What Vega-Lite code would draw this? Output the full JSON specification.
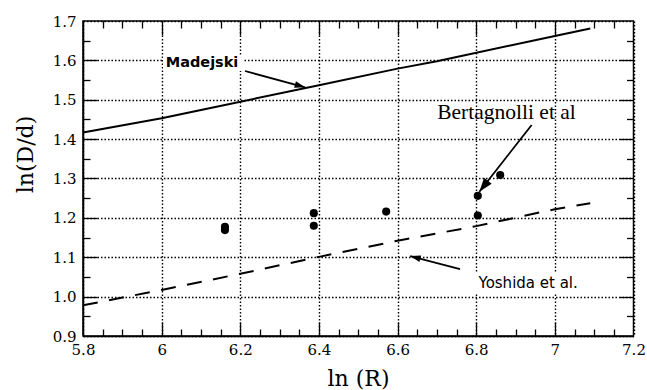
{
  "$schema": "https://vega.github.io/schema/vega-lite/v6.json",
  "width": 550.5,
  "height": 315,
  "autosize": {"type": "none"},
  "padding": {"left": 83, "top": 21, "right": 13.5, "bottom": 54},
  "background": "white",
  "config": {
    "view": {"stroke": "black", "strokeWidth": 1.5}
  },
  "datasets": {
    "points": [
      {"lnR": 6.161, "lnDd": 1.169},
      {"lnR": 6.161, "lnDd": 1.177},
      {"lnR": 6.387, "lnDd": 1.212},
      {"lnR": 6.387, "lnDd": 1.180},
      {"lnR": 6.571, "lnDd": 1.216},
      {"lnR": 6.804, "lnDd": 1.206},
      {"lnR": 6.804, "lnDd": 1.256},
      {"lnR": 6.861, "lnDd": 1.309}
    ],
    "madejski": [
      {"lnR": 5.8, "lnDd": 1.417},
      {"lnR": 6.0, "lnDd": 1.453},
      {"lnR": 6.1, "lnDd": 1.474},
      {"lnR": 6.4, "lnDd": 1.537},
      {"lnR": 6.6, "lnDd": 1.579},
      {"lnR": 6.7, "lnDd": 1.598},
      {"lnR": 7.0, "lnDd": 1.662},
      {"lnR": 7.09, "lnDd": 1.681}
    ],
    "yoshida": [
      {"lnR": 5.8, "lnDd": 0.978},
      {"lnR": 6.0, "lnDd": 1.017},
      {"lnR": 6.2, "lnDd": 1.058},
      {"lnR": 6.4, "lnDd": 1.101},
      {"lnR": 6.6, "lnDd": 1.142},
      {"lnR": 6.8, "lnDd": 1.179},
      {"lnR": 7.0, "lnDd": 1.222},
      {"lnR": 7.09, "lnDd": 1.237}
    ],
    "arrows": [
      {"name": "Madejski", "lnR": 6.212, "lnDd": 1.573, "lnR2": 6.365, "lnDd2": 1.5316},
      {"name": "Yoshida", "lnR": 6.759, "lnDd": 1.070, "lnR2": 6.632, "lnDd2": 1.103},
      {"name": "Bertagnolli", "lnR": 6.941, "lnDd": 1.4359, "lnR2": 6.808, "lnDd2": 1.2665}
    ],
    "labels": [
      {"name": "Madejski", "text": "Madejski", "lnR": 6.1027, "lnDd": 1.593},
      {"name": "Yoshida", "text": "Yoshida et al.", "lnR": 6.932, "lnDd": 1.0346},
      {"name": "Bertagnolli", "text": "Bertagnolli et al", "lnR": 6.877, "lnDd": 1.4663}
    ],
    "boxes": [
      {"lnR": 6.0035, "lnR2": 6.207, "lnDd": 1.573, "lnDd2": 1.6137},
      {"lnR": 6.795, "lnR2": 7.075, "lnDd": 1.008, "lnDd2": 1.0625}
    ]
  },
  "encoding": {
    "x": {"field": "lnR", "type": "quantitative", "scale": {"domain": [5.8, 7.2], "nice": false, "zero": false}, "axis": null},
    "y": {"field": "lnDd", "type": "quantitative", "scale": {"domain": [0.9, 1.7], "nice": false, "zero": false}, "axis": null}
  },
  "resolve": {"axis": {"x": "independent", "y": "independent"}},
  "layer": [
    {
      "data": {"name": "boxes"},
      "mark": {"type": "rect", "fill": "white", "stroke": null},
      "encoding": {
        "x2": {"field": "lnR2"},
        "y2": {"field": "lnDd2"}
      }
    },
    {
      "data": {"name": "points"},
      "mark": {"type": "point", "filled": true, "shape": "circle", "size": 66, "color": "black", "opacity": 1},
      "encoding": {
        "x": {
          "field": "lnR", "type": "quantitative",
          "scale": {"domain": [5.8, 7.2], "nice": false, "zero": false},
          "axis": {
            "orient": "bottom",
            "values": [5.8, 6, 6.2, 6.4, 6.6, 6.8, 7, 7.2],
            "labelExpr": "format(datum.value, '.1~f')",
            "labelFont": "DejaVu Serif", "labelFontSize": 15, "labelColor": "black", "labelPadding": 6,
            "labelOverlap": false, "labelFlush": false,
            "ticks": false, "tickSize": 0,
            "grid": true, "gridDash": [1.5, 2], "gridWidth": 1.4, "gridColor": "black",
            "domainColor": "black", "domainWidth": 1.5,
            "title": "ln (R)", "titleFont": "DejaVu Serif", "titleFontSize": 22, "titleFontWeight": "normal", "titleColor": "black",
            "titleBaseline": "middle", "titleX": 275, "titleY": 42
          }
        },
        "y": {
          "field": "lnDd", "type": "quantitative",
          "scale": {"domain": [0.9, 1.7], "nice": false, "zero": false},
          "axis": {
            "orient": "left",
            "values": [0.9, 1, 1.1, 1.2, 1.3, 1.4, 1.5, 1.6, 1.7],
            "labelExpr": "format(datum.value, '.1f')",
            "labelFont": "DejaVu Serif", "labelFontSize": 15, "labelColor": "black", "labelPadding": 7,
            "labelOverlap": false, "labelFlush": false,
            "ticks": false, "tickSize": 0,
            "grid": true, "gridDash": [1.5, 2], "gridWidth": 1.4, "gridColor": "black",
            "domainColor": "black", "domainWidth": 1.5,
            "title": "ln(D/d)", "titleFont": "DejaVu Serif", "titleFontSize": 22, "titleFontWeight": "normal", "titleColor": "black",
            "titleBaseline": "middle", "titleX": -58, "titleY": 133
          }
        }
      }
    },
    {
      "data": {"name": "madejski"},
      "mark": {"type": "line", "color": "black", "strokeWidth": 2},
      "encoding": {
        "x": {
          "field": "lnR", "type": "quantitative",
          "scale": {"domain": [5.8, 7.2], "nice": false, "zero": false},
          "axis": {"orient": "top", "values": [6, 6.2, 6.4, 6.6, 6.8, 7], "labels": false, "grid": false, "domain": false, "title": null,
                   "ticks": true, "tickSize": 14, "offset": -14, "tickColor": "black", "tickWidth": 1.3}
        },
        "y": {
          "field": "lnDd", "type": "quantitative",
          "scale": {"domain": [0.9, 1.7], "nice": false, "zero": false},
          "axis": {"orient": "right", "values": [1, 1.1, 1.2, 1.3, 1.4, 1.5, 1.6], "labels": false, "grid": false, "domain": false, "title": null,
                   "ticks": true, "tickSize": 14, "offset": -14, "tickColor": "black", "tickWidth": 1.3}
        }
      }
    },
    {
      "data": {"name": "yoshida"},
      "mark": {"type": "line", "color": "black", "strokeWidth": 2, "strokeDash": [15, 11.5]},
      "encoding": {
        "x": {
          "field": "lnR", "type": "quantitative",
          "scale": {"domain": [5.8, 7.2], "nice": false, "zero": false},
          "axis": {"orient": "bottom", "values": [6, 6.2, 6.4, 6.6, 6.8, 7], "labels": false, "grid": false, "domain": false, "title": null,
                   "ticks": true, "tickSize": 14, "offset": -14, "tickColor": "black", "tickWidth": 1.3}
        },
        "y": {
          "field": "lnDd", "type": "quantitative",
          "scale": {"domain": [0.9, 1.7], "nice": false, "zero": false},
          "axis": {"orient": "left", "values": [1, 1.1, 1.2, 1.3, 1.4, 1.5, 1.6], "labels": false, "grid": false, "domain": false, "title": null,
                   "ticks": true, "tickSize": 14, "offset": -14, "tickColor": "black", "tickWidth": 1.3}
        }
      }
    },
    {
      "data": {"name": "arrows"},
      "mark": {"type": "rule", "color": "black", "strokeWidth": 1.8},
      "encoding": {
        "x": {
          "field": "lnR", "type": "quantitative",
          "scale": {"domain": [5.8, 7.2], "nice": false, "zero": false},
          "axis": {"orient": "bottom", "values": [5.85,5.9,5.95,6.05,6.1,6.15,6.25,6.3,6.35,6.45,6.5,6.55,6.65,6.7,6.75,6.85,6.9,6.95,7.05,7.1,7.15],
                   "labels": false, "grid": false, "domain": false, "title": null,
                   "ticks": true, "tickSize": 7, "offset": -7, "tickColor": "black", "tickWidth": 1.3}
        },
        "y": {
          "field": "lnDd", "type": "quantitative",
          "scale": {"domain": [0.9, 1.7], "nice": false, "zero": false},
          "axis": {"orient": "left", "values": [0.95,1.05,1.15,1.25,1.35,1.45,1.55,1.65],
                   "labels": false, "grid": false, "domain": false, "title": null,
                   "ticks": true, "tickSize": 7, "offset": -7, "tickColor": "black", "tickWidth": 1.3}
        },
        "x2": {"field": "lnR2"},
        "y2": {"field": "lnDd2"}
      }
    },
    {
      "data": {"name": "arrows"},
      "transform": [{"filter": "datum.name == 'Madejski'"}],
      "mark": {"type": "point", "filled": true, "color": "black", "opacity": 1, "shape": "M0,0 L0.65,2 L-0.65,2 Z", "size": 110, "angle": 105.2},
      "encoding": {
        "x": {
          "field": "lnR2", "type": "quantitative",
          "scale": {"domain": [5.8, 7.2], "nice": false, "zero": false},
          "axis": {"orient": "top", "values": [5.85,5.9,5.95,6.05,6.1,6.15,6.25,6.3,6.35,6.45,6.5,6.55,6.65,6.7,6.75,6.85,6.9,6.95,7.05,7.1,7.15],
                   "labels": false, "grid": false, "domain": false, "title": null,
                   "ticks": true, "tickSize": 7, "offset": -7, "tickColor": "black", "tickWidth": 1.3}
        },
        "y": {
          "field": "lnDd2", "type": "quantitative",
          "scale": {"domain": [0.9, 1.7], "nice": false, "zero": false},
          "axis": {"orient": "right", "values": [0.95,1.05,1.15,1.25,1.35,1.45,1.55,1.65],
                   "labels": false, "grid": false, "domain": false, "title": null,
                   "ticks": true, "tickSize": 7, "offset": -7, "tickColor": "black", "tickWidth": 1.3}
        }
      }
    },
    {
      "data": {"name": "arrows"},
      "transform": [{"filter": "datum.name == 'Yoshida'"}],
      "mark": {"type": "point", "filled": true, "color": "black", "opacity": 1, "shape": "M0,0 L0.65,2 L-0.65,2 Z", "size": 110, "angle": 284.6},
      "encoding": {
        "x": {"field": "lnR2", "type": "quantitative", "scale": {"domain": [5.8, 7.2], "nice": false, "zero": false}, "axis": null},
        "y": {"field": "lnDd2", "type": "quantitative", "scale": {"domain": [0.9, 1.7], "nice": false, "zero": false}, "axis": null}
      }
    },
    {
      "data": {"name": "arrows"},
      "transform": [{"filter": "datum.name == 'Bertagnolli'"}],
      "mark": {"type": "point", "filled": true, "color": "black", "opacity": 1, "shape": "M0,0 L0.7,2 L-0.7,2 Z", "size": 190, "angle": 218.15},
      "encoding": {
        "x": {"field": "lnR2", "type": "quantitative", "scale": {"domain": [5.8, 7.2], "nice": false, "zero": false}, "axis": null},
        "y": {"field": "lnDd2", "type": "quantitative", "scale": {"domain": [0.9, 1.7], "nice": false, "zero": false}, "axis": null}
      }
    },
    {
      "data": {"name": "labels"},
      "transform": [{"filter": "datum.name == 'Madejski'"}],
      "mark": {"type": "text", "font": "DejaVu Sans", "fontSize": 14.5, "fontWeight": 600, "color": "black", "align": "center", "baseline": "middle"},
      "encoding": {"text": {"field": "text"}}
    },
    {
      "data": {"name": "labels"},
      "transform": [{"filter": "datum.name == 'Yoshida'"}],
      "mark": {"type": "text", "font": "DejaVu Sans", "fontSize": 15, "color": "black", "align": "center", "baseline": "middle"},
      "encoding": {"text": {"field": "text"}}
    },
    {
      "data": {"name": "labels"},
      "transform": [{"filter": "datum.name == 'Bertagnolli'"}],
      "mark": {"type": "text", "font": "Liberation Serif", "fontSize": 21.5, "color": "black", "align": "center", "baseline": "middle"},
      "encoding": {"text": {"field": "text"}}
    }
  ]
}
